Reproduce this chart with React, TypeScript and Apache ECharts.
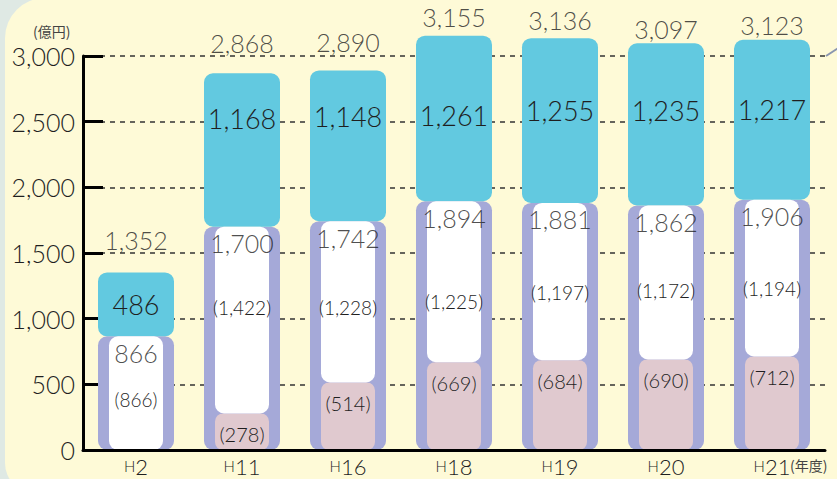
import React, { useEffect, useRef } from "react";
import * as echarts from "echarts";

const categories = ["H2", "H11", "H16", "H18", "H19", "H20", "H21"];
const lowerTotals = [866, 1700, 1742, 1894, 1881, 1862, 1906];
const pinkValues = [0, 278, 514, 669, 684, 690, 712];
const whiteValues = [866, 1422, 1228, 1225, 1197, 1172, 1194];
const cyanValues = [486, 1168, 1148, 1261, 1255, 1235, 1217];
const grandTotals = [1352, 2868, 2890, 3155, 3136, 3097, 3123];
const yTickValues = [0, 500, 1000, 1500, 2000, 2500, 3000];

// label fine-tuning (pixel shifts, style only)
const cyanLabelShift = [0, -32, -29, -3, -10, -14, -10];
const whiteLabelShift = [6, -13, 6, 20, 11, 8, 10];
const totalLabelGap = [20, 18, 16, 6, 6, 2, 2];

const NUM_FONT = "Lato, 'Noto Sans', sans-serif";
const TXT = "#1f1f1f";

const fmt = (v: number) => v.toLocaleString("en-US");

export default function App() {
  const ref = useRef<HTMLDivElement>(null);

  useEffect(() => {
    if (!ref.current) return;
    const chart = echarts.init(ref.current, undefined, { renderer: "svg" });

    const numLabel = (size: number, weight: number = 300) => ({
      fontSize: size,
      color: TXT,
      fontFamily: NUM_FONT,
      fontWeight: weight,
    });

    const option: any = {
      animation: false,
      graphic: [
        {
          type: "rect",
          z: -100,
          shape: { x: 5, y: -2, width: 900, height: 495, r: [40, 0, 0, 30] },
          style: { fill: "#fefad7" },
          silent: true,
        },
        {
          type: "text",
          left: 33,
          top: 24,
          style: { text: "(億円)", fill: "#444", font: "14px 'Noto Sans CJK JP'" },
        },
        {
          type: "text",
          left: 790,
          top: 458,
          style: { text: "(年度)", fill: "#444", font: "14px 'Noto Sans CJK JP'" },
        },
        {
          type: "line",
          shape: { x1: 826, y1: 56, x2: 840, y2: 47 },
          style: { stroke: "#8a96b0", lineWidth: 2 },
        },
      ],
      grid: { left: 83, right: 12, top: 56, bottom: 29, containLabel: false },
      xAxis: [
        {
          type: "category",
          data: categories,
          axisLine: { lineStyle: { color: "#000", width: 3 } },
          axisTick: { inside: true, length: 10, lineStyle: { color: "#000", width: 3 } },
          axisLabel: {
            margin: 5,
            formatter: (v: string) => `{h|H}{n|${v.slice(1)}}`,
            rich: {
              h: { ...numLabel(15) },
              n: { ...numLabel(22) },
            },
          },
          z: 5,
        },
        { type: "category", data: categories, show: false },
      ],
      yAxis: {
        type: "value",
        min: 0,
        max: 3000,
        interval: 500,
        axisLine: { show: true, lineStyle: { color: "#000", width: 3 } },
        axisTick: { show: true, inside: true, length: 20, lineStyle: { color: "#000", width: 3 } },
        axisLabel: {
          margin: 8,
          ...numLabel(25),
          formatter: (v: number) => (yTickValues.includes(v) ? fmt(v) : ""),
        },
        splitLine: {
          show: true,
          lineStyle: { color: "#333", width: 1.5, type: [5, 5], dashOffset: 3 },
        },
        z: 0,
      },
      series: [
        {
          name: "lower",
          type: "bar",
          xAxisIndex: 0,
          stack: "outer",
          barWidth: 76,
          clip: false,
          data: lowerTotals,
          itemStyle: { color: "#a5a9d8", borderRadius: 9 },
          z: 2,
        },
        {
          name: "cyan",
          type: "bar",
          xAxisIndex: 0,
          stack: "outer",
          barWidth: 76,
          clip: false,
          data: cyanValues.map((v, i) => ({
            value: v,
            label: { offset: [0, cyanLabelShift[i]] },
          })),
          itemStyle: { color: "#62c9e0", borderRadius: 9 },
          label: {
            show: true,
            position: "inside",
            ...numLabel(27),
            formatter: (p: any) => fmt(p.value),
          },
          z: 2,
        },
        {
          name: "pink",
          type: "bar",
          xAxisIndex: 1,
          stack: "inner",
          barWidth: 54,
          clip: false,
          data: pinkValues,
          itemStyle: { color: "#e0c9cf", borderRadius: 8 },
          label: {
            show: true,
            position: "insideTop",
            distance: 11,
            ...numLabel(20),
            formatter: (p: any) => (p.value > 0 ? `(${fmt(p.value)})` : ""),
          },
          z: 3,
        },
        {
          name: "white",
          type: "bar",
          xAxisIndex: 1,
          stack: "inner",
          barWidth: 54,
          clip: false,
          data: whiteValues.map((v, i) => ({
            value: v,
            label: { offset: [0, whiteLabelShift[i]] },
          })),
          itemStyle: { color: "#ffffff", borderRadius: 9 },
          label: {
            show: true,
            position: "inside",
            ...numLabel(19),
            formatter: (p: any) => `(${fmt(p.value)})`,
          },
          z: 3,
        },
        {
          name: "lowerLabel",
          type: "scatter",
          xAxisIndex: 0,
          symbolSize: 0,
          clip: false,
          data: lowerTotals,
          label: {
            show: true,
            position: "bottom",
            distance: 4,
            ...numLabel(25),
            formatter: (p: any) => fmt(p.value),
          },
          z: 4,
        },
        {
          name: "total",
          type: "scatter",
          xAxisIndex: 0,
          symbolSize: 0,
          clip: false,
          data: grandTotals.map((v, i) => ({
            value: v,
            label: { distance: totalLabelGap[i] },
          })),
          label: {
            show: true,
            position: "top",
            ...numLabel(25),
            formatter: (p: any) => fmt(p.value),
          },
          z: 4,
        },
      ],
    };

    chart.setOption(option);
    return () => chart.dispose();
  }, []);

  return (
    <div
      ref={ref}
      style={{
        position: "fixed",
        left: 0,
        top: 0,
        width: 837,
        height: 479,
        background: "#dfe9e4",
      }}
    />
  );
}
